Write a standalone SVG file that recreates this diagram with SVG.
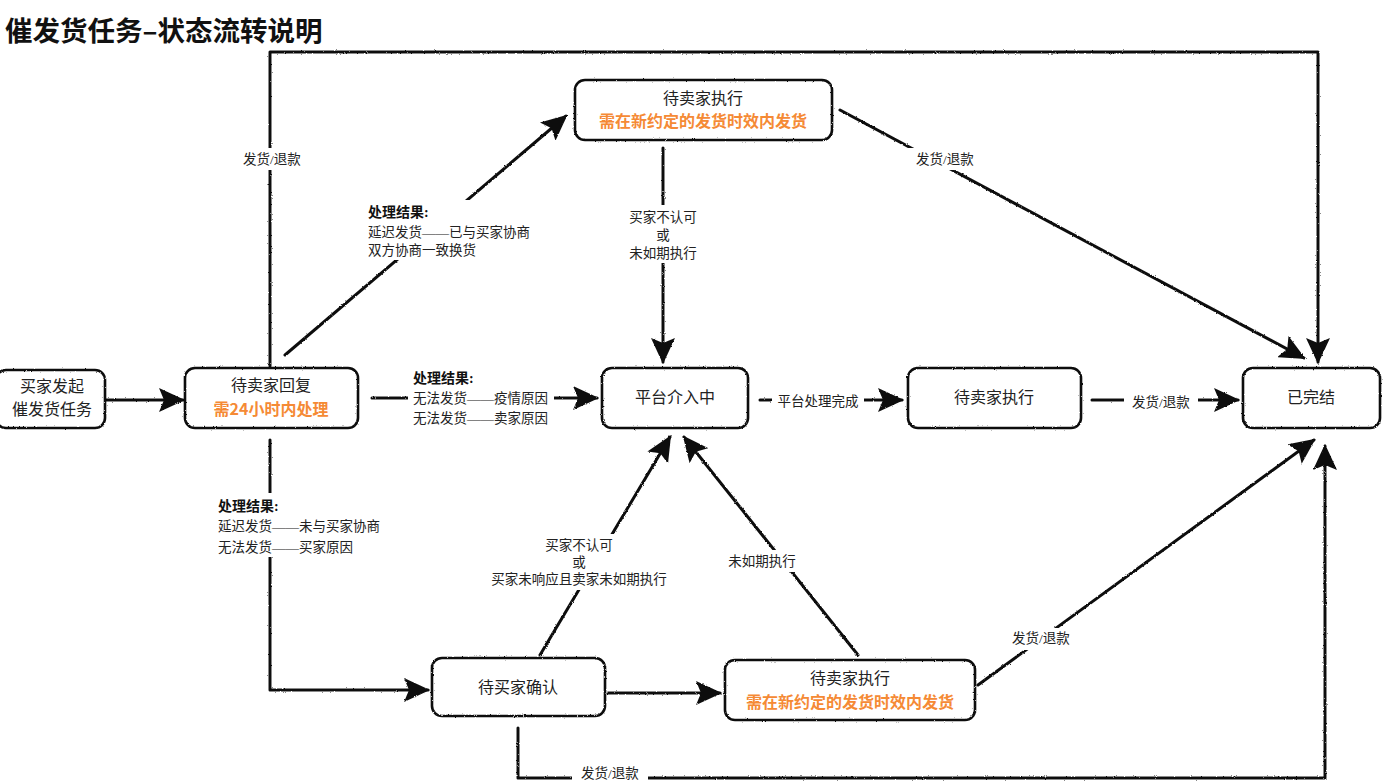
<svg xmlns="http://www.w3.org/2000/svg" width="1388" height="784" viewBox="0 0 1388 784">
<defs>
<filter id="rough" x="-5%" y="-5%" width="110%" height="110%">
<feTurbulence type="fractalNoise" baseFrequency="0.9" numOctaves="2" seed="3" result="n"/>
<feDisplacementMap in="SourceGraphic" in2="n" scale="2.2" xChannelSelector="R" yChannelSelector="G"/>
</filter>
<marker id="ah" viewBox="0 0 26 24" refX="24" refY="12" markerWidth="26" markerHeight="24" markerUnits="userSpaceOnUse" orient="auto">
<path d="M0,0 L26,12 L0,24 L5,12 Z" fill="#111"/>
</marker>
<style>
.box{fill:#fff;stroke:#111;stroke-width:2.6}
.t{font-family:"Noto Sans CJK SC","Liberation Sans",sans-serif;font-size:16px;fill:#222;text-anchor:middle}
.o{font-family:"Noto Sans CJK SC","Liberation Sans",sans-serif;font-size:16px;font-weight:bold;fill:#F58A35;text-anchor:middle}
.c{fill:none;stroke:#111;stroke-width:3;stroke-linecap:round;stroke-linejoin:round}
.l{font-family:"Liberation Serif","Noto Sans CJK SC",serif;font-size:13.5px;fill:#222}
.lb{font-family:"Liberation Serif","Noto Sans CJK SC",serif;font-size:14px;font-weight:bold;fill:#111}
.m{text-anchor:middle}
.bg{fill:#fff}
</style>
</defs>
<rect width="1388" height="784" fill="#fff"/>
<text x="5" y="41" font-family="Noto Sans CJK SC,Liberation Sans,sans-serif" font-size="27.5" font-weight="bold" fill="#111">催发货任务–状态流转说明</text>

<g id="connectors">
<g filter="url(#rough)">
<path class="c" d="M105,400 L183,400" marker-end="url(#ah)"/>
<path class="c" d="M270,366 L270,52 L1318,52 L1318,362" marker-end="url(#ah)"/>
<path class="c" d="M285,355 L566,116" marker-end="url(#ah)"/>
<path class="c" d="M372,398 L597,398" marker-end="url(#ah)"/>
<path class="c" d="M270,440 L270,690 L428,690" marker-end="url(#ah)"/>
<path class="c" d="M663,148 L663,362" marker-end="url(#ah)"/>
<path class="c" d="M840,110 L1304,358" marker-end="url(#ah)"/>
<path class="c" d="M760,400 L902,400" marker-end="url(#ah)"/>
<path class="c" d="M1092,400 L1238,400" marker-end="url(#ah)"/>
<path class="c" d="M540,655 L670,437" marker-end="url(#ah)"/>
<path class="c" d="M608,693 L720,693" marker-end="url(#ah)"/>
<path class="c" d="M858,655 L684,437" marker-end="url(#ah)"/>
<path class="c" d="M978,685 L1314,440" marker-end="url(#ah)"/>
<path class="c" d="M518,728 L518,778 L1325,778 L1325,446" marker-end="url(#ah)"/>
</g>
<rect class="bg" x="236" y="148" width="70" height="22"/>
<text class="l m" x="272" y="164">发货/退款</text>
<rect class="bg" x="365" y="200" width="172" height="60"/>
<text class="lb" x="368" y="217">处理结果:</text>
<text class="l" x="368" y="237">延迟发货——已与买家协商</text>
<text class="l" x="368" y="255">双方协商一致换货</text>
<rect class="bg" x="408" y="366" width="146" height="62"/>
<text class="lb" x="413" y="383">处理结果:</text>
<text class="l" x="413" y="403">无法发货——疫情原因</text>
<text class="l" x="413" y="423">无法发货——卖家原因</text>
<rect class="bg" x="214" y="493" width="172" height="64"/>
<text class="lb" x="218" y="511">处理结果:</text>
<text class="l" x="218" y="531">延迟发货——未与买家协商</text>
<text class="l" x="218" y="552">无法发货——买家原因</text>
<rect class="bg" x="620" y="205" width="86" height="58"/>
<text class="l m" x="663" y="222">买家不认可</text>
<text class="l m" x="663" y="240">或</text>
<text class="l m" x="663" y="258">未如期执行</text>
<rect class="bg" x="908" y="148" width="74" height="22"/>
<text class="l m" x="945" y="164">发货/退款</text>
<rect class="bg" x="772" y="390" width="92" height="22"/>
<text class="l m" x="818" y="406">平台处理完成</text>
<rect class="bg" x="1124" y="390" width="74" height="22"/>
<text class="l m" x="1161" y="407">发货/退款</text>
<rect class="bg" x="484" y="534" width="190" height="56"/>
<text class="l m" x="579" y="550">买家不认可</text>
<text class="l m" x="579" y="567">或</text>
<text class="l m" x="579" y="584">买家未响应且卖家未如期执行</text>
<rect class="bg" x="722" y="550" width="80" height="22"/>
<text class="l m" x="762" y="566">未如期执行</text>
<rect class="bg" x="1004" y="628" width="74" height="22"/>
<text class="l m" x="1041" y="643">发货/退款</text>
<rect class="bg" x="572" y="764" width="76" height="20"/>
<text class="l m" x="610" y="778">发货/退款</text>
</g>

<g id="n-start">
<rect class="box" x="-4" y="370" width="109" height="58" rx="10" filter="url(#rough)"/>
<text class="t" x="52" y="392">买家发起</text>
<text class="t" x="52" y="415">催发货任务</text>
</g>
<g id="n-reply">
<rect class="box" x="185" y="368" width="173" height="60" rx="10" filter="url(#rough)"/>
<text class="t" x="271" y="391">待卖家回复</text>
<text class="o" x="271" y="415">需24小时内处理</text>
</g>
<g id="n-exec-top">
<rect class="box" x="575" y="80" width="257" height="60" rx="10" filter="url(#rough)"/>
<text class="t" x="703" y="104">待卖家执行</text>
<text class="o" x="703" y="127">需在新约定的发货时效内发货</text>
</g>
<g id="n-platform">
<rect class="box" x="602" y="368" width="146" height="60" rx="10" filter="url(#rough)"/>
<text class="t" x="675" y="403">平台介入中</text>
</g>
<g id="n-exec-mid">
<rect class="box" x="908" y="368" width="173" height="60" rx="10" filter="url(#rough)"/>
<text class="t" x="994" y="403">待卖家执行</text>
</g>
<g id="n-done">
<rect class="box" x="1243" y="368" width="137" height="60" rx="10" filter="url(#rough)"/>
<text class="t" x="1311" y="403">已完结</text>
</g>
<g id="n-buyer-confirm">
<rect class="box" x="432" y="658" width="173" height="58" rx="10" filter="url(#rough)"/>
<text class="t" x="518" y="693">待买家确认</text>
</g>
<g id="n-exec-bottom">
<rect class="box" x="725" y="660" width="250" height="60" rx="10" filter="url(#rough)"/>
<text class="t" x="850" y="684">待卖家执行</text>
<text class="o" x="850" y="708">需在新约定的发货时效内发货</text>
</g>
</svg>
